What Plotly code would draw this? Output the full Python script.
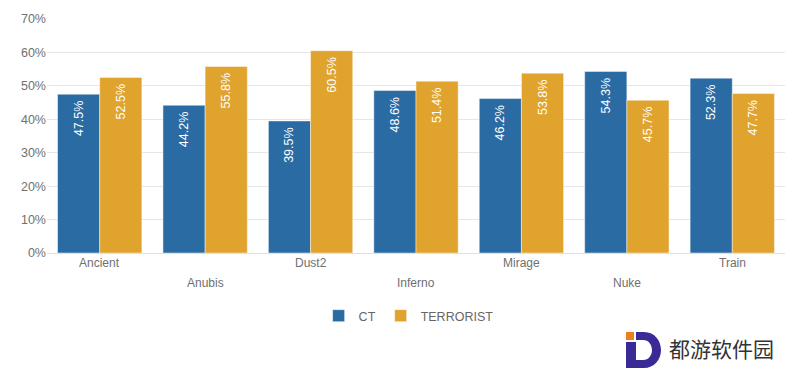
import plotly.graph_objects as go

maps = ["Ancient", "Anubis", "Dust2", "Inferno", "Mirage", "Nuke", "Train"]
ct = [47.5, 44.2, 39.5, 48.6, 46.2, 54.3, 52.3]
terrorist = [52.5, 55.8, 60.5, 51.4, 53.8, 45.7, 47.7]
yticks = [0, 10, 20, 30, 40, 50, 60, 70]
ytick_labels = [f"{v}%" for v in yticks]

W, H = 800, 376
L, R, T, B = 47, 15, 19, 123
PW, PH = W - L - R, H - T - B

def px(x):
    return (x - L) / PW

def py(y):
    return (H - B - y) / PH

FONT = "Liberation Sans, Arial, sans-serif"
CT_COLOR = "#2b6ba3"
T_COLOR = "#e0a32d"

fig = go.Figure()
fig.add_bar(
    name="CT", x=maps, y=ct,
    marker=dict(color=CT_COLOR, line=dict(color="rgba(255,255,255,0.45)", width=1)),
    text=[f"{v:.1f}%\u00a0" for v in ct], textposition="inside", insidetextanchor="end",
    textangle=-90, textfont=dict(color="white", size=12.5, family=FONT),
    constraintext="none", cliponaxis=False,
)
fig.add_bar(
    name="TERRORIST", x=maps, y=terrorist,
    marker=dict(color=T_COLOR, line=dict(color="rgba(255,255,255,0.45)", width=1)),
    text=[f"{v:.1f}%\u00a0" for v in terrorist], textposition="inside", insidetextanchor="end",
    textangle=-90, textfont=dict(color="white", size=12.5, family=FONT),
    constraintext="none", cliponaxis=False,
)

annotations = []
for i, m in enumerate(maps):
    annotations.append(dict(
        x=m, xref="x", y=0, yref="y", yanchor="top", xanchor="center",
        yshift=-1 if i % 2 == 0 else -21, text=m, showarrow=False,
        font=dict(size=12, color="#707070", family=FONT),
    ))
annotations.append(dict(
    x=px(667), y=py(348), xref="paper", yref="paper", xanchor="left", yanchor="middle",
    text="都游软件园", showarrow=False,
    font=dict(size=21, color="#333333", family="Noto Sans CJK SC"),
))

def path(cmds):
    out = []
    for c in cmds:
        if isinstance(c, str):
            out.append(c)
        else:
            out.append(f"{px(c[0]):.5f},{py(c[1]):.5f}")
    return " ".join(out)

d_path = path([
    "M", (636, 332), "L", (644, 332), "C", (655, 332), (661, 341), (661, 350),
    "C", (661, 360), (654, 368), (644, 368), "L", (626, 368), "L", (626, 342),
    "L", (636, 342), "L", (636, 360), "L", (643, 360),
    "C", (649, 360), (652, 355), (652, 350), "C", (652, 345), (649, 340), (643, 340),
    "L", (636, 340), "Z",
])
shapes = [
    dict(type="path", xref="paper", yref="paper", path=d_path,
         fillcolor="#3a2a96", line=dict(width=0)),
    dict(type="rect", xref="paper", yref="paper", x0=px(626), x1=px(634),
         y0=py(340), y1=py(332), fillcolor="#f07d1e", line=dict(width=0)),
]

fig.update_layout(
    width=W, height=H,
    margin=dict(l=L, r=R, t=T, b=B, autoexpand=False),
    paper_bgcolor="white", plot_bgcolor="white",
    barmode="group", bargap=0.2, bargroupgap=0,
    font=dict(family=FONT, size=12, color="#707070"),
    xaxis=dict(showticklabels=False, showgrid=False, showline=True, automargin=False,
               linecolor="#e0e0e0", linewidth=1, ticks=""),
    yaxis=dict(range=[0, 70], tickvals=yticks, ticktext=ytick_labels, automargin=False,
               showgrid=True, gridcolor="#e6e6e6", gridwidth=1,
               zeroline=False, showline=False, ticks="", ticklen=0,
               tickfont=dict(size=12.5, color="#707070", family=FONT)),
    legend=dict(orientation="h", x=0.49, xanchor="center", y=py(316),
                yanchor="middle", font=dict(size=12.5, color="#666666", family=FONT),
                itemwidth=30, traceorder="normal"),
    annotations=annotations,
    shapes=shapes,
    uniformtext=dict(minsize=12, mode="show"),
)

fig.write_html("out.html", config={"displayModeBar": False},
               post_script="document.body.style.margin='0px';document.body.style.padding='0px';")
